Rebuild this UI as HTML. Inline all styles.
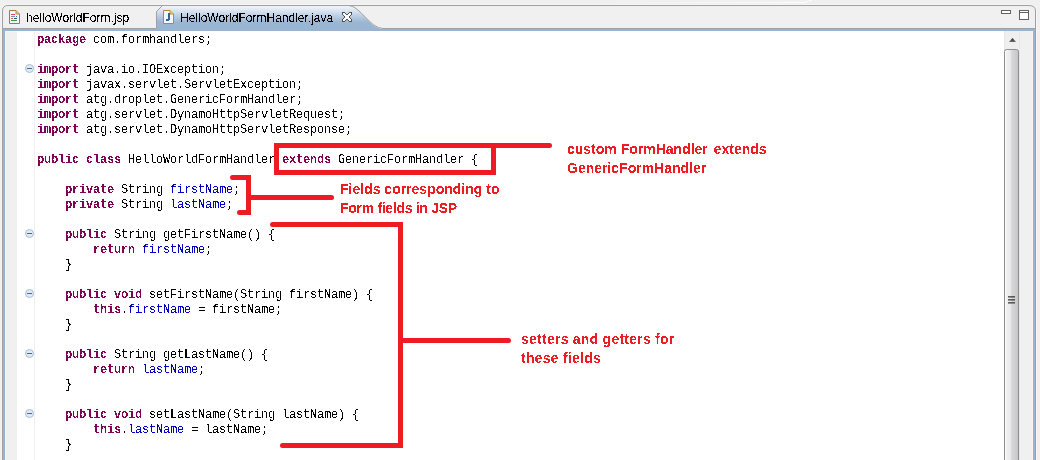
<!DOCTYPE html>
<html><head><meta charset="utf-8">
<style>
*{margin:0;padding:0;box-sizing:border-box}
html,body{width:1040px;height:460px;overflow:hidden;background:#f0f0f0;position:relative;font-family:"Liberation Sans",sans-serif}
svg{position:absolute;left:0;top:0}
#gut1{position:absolute;left:6px;top:32px;width:11px;height:440px;background:#f0f0f0}
#gutw{position:absolute;left:17px;top:31px;width:986px;height:440px;background:#fff}
#sep{position:absolute;left:34px;top:31px;width:1px;height:440px;background:#efefef}
#code{filter:url(#thr);position:absolute;left:37px;top:33px;font-family:"Liberation Mono",monospace;font-size:12px;letter-spacing:-0.2px;line-height:15px;color:#000;white-space:pre}
.k{color:#7f0055;font-weight:bold}
.f{color:#0000c0}
.fold{position:absolute;left:25px;width:9px;height:9px;border-radius:50%;background:#ddeaf7;border:1px solid #a9bed6}
.fold:after{content:"";position:absolute;left:1px;top:3px;width:5px;height:1px;background:#55657a}
.red{position:absolute;background:#ed1c24}
.note{filter:url(#thr);position:absolute;color:#ed1c24;font-weight:bold;font-size:14px;line-height:19px;white-space:pre}
.tab{filter:url(#thr);position:absolute;top:11px;font-size:12px;line-height:15px;color:#000;white-space:pre}
</style></head><body>
<svg width="0" height="0" style="position:absolute"><filter id="thr" x="0" y="0" width="100%" height="100%"><feComponentTransfer><feFuncA type="discrete" tableValues="0 1"/></feComponentTransfer></filter><filter id="thr2" x="0" y="0" width="100%" height="100%"><feComponentTransfer><feFuncA type="discrete" tableValues="0 0 0 0 0 0 0 1 1 1"/></feComponentTransfer></filter></svg>
<svg width="1040" height="460" viewBox="0 0 1040 460">
  <defs>
    <linearGradient id="atab" x1="0" y1="5" x2="0" y2="29" gradientUnits="userSpaceOnUse">
      <stop offset="0" stop-color="#f7f9fc"/>
      <stop offset="0.2" stop-color="#dfe8f2"/>
      <stop offset="0.5" stop-color="#b6cae0"/>
      <stop offset="0.72" stop-color="#9bb6d3"/>
      <stop offset="1" stop-color="#98b4d3"/>
    </linearGradient>
    <linearGradient id="thumb" x1="1004" y1="0" x2="1019" y2="0" gradientUnits="userSpaceOnUse">
      <stop offset="0" stop-color="#f6f6f6"/>
      <stop offset="0.45" stop-color="#e8e8e8"/>
      <stop offset="0.5" stop-color="#d9d9db"/>
      <stop offset="1" stop-color="#c3c3c6"/>
    </linearGradient>
    <linearGradient id="arrow" x1="0" y1="38" x2="0" y2="42" gradientUnits="userSpaceOnUse">
      <stop offset="0" stop-color="#202020"/>
      <stop offset="1" stop-color="#707070"/>
    </linearGradient>
  </defs>
  <!-- faint top toolbar edge -->
  <linearGradient id="wl" x1="600" y1="0" x2="800" y2="0" gradientUnits="userSpaceOnUse"><stop offset="0" stop-color="#f0f0f0"/><stop offset="1" stop-color="#fcfcfc"/></linearGradient>
  <path d="M600 2.5 H805 L806 1.5 H808 L809 0.5 H812" stroke="url(#wl)" fill="none"/>
  <!-- highlight around outer border -->
  <path d="M1.5 460 V11 Q1.5 4.5 8 4.5 H1029 Q1036.5 4.5 1036.5 11 V460" stroke="#f6f6f6" fill="none"/>
  <!-- active tab fill -->
  <path d="M157 29 V11 L162 6 H349 C360 6 370 29 383 29 Z" fill="url(#atab)"/>
  <!-- tab folder outline -->
  <path d="M2.5 460 V11 Q2.5 5.5 8 5.5 H1029 Q1035.5 5.5 1035.5 11 V460" stroke="#a0a0a0" fill="none"/>
  <!-- inactive tab right edge + active tab left corner -->
  <path d="M156.5 28.5 V11.5 L162.5 5.5" stroke="#a0a0a0" fill="none"/>
  <!-- active tab right curve -->
  <path d="M348.5 5.5 C360 5.5 370 28.5 383 28.5" stroke="#a0a0a0" fill="none"/>
  <!-- bottom line of tab row -->
  <path d="M2 28.5 H156.5 M383 28.5 H1035" stroke="#a0a0a0" fill="none"/>
  <!-- editor blue border -->
  <rect x="4" y="30" width="1030" height="440" stroke="#99b4d1" stroke-width="2" fill="#fff"/>
  <line x1="157" y1="29.5" x2="383" y2="29.5" stroke="#99b4d1"/>
  <!-- jsp icon -->
  <g>
    <path d="M9.5 10.5 H16 L19.5 14 V23.5 H9.5 Z" fill="#f2f6fc" stroke="#9c7b3c"/>
    <path d="M16 10.5 V14 H19.5" fill="#e2c27a" stroke="#b8924a"/>
    <rect x="11" y="14" width="4" height="1" fill="#e0454a"/>
    <rect x="11" y="16" width="4" height="1" fill="#7a93b8"/>
    <rect x="16" y="16" width="1" height="1" fill="#4a6a9c"/>
    <rect x="11" y="18" width="2" height="1" fill="#e84a50"/>
    <rect x="14" y="18" width="3" height="1" fill="#2a4a88"/>
    <rect x="11" y="20" width="6" height="1" fill="#3a9a3a"/>
  </g>
  <!-- java icon -->
  <g>
    <path d="M163.5 10.5 H170 L173.5 14 V23.5 H163.5 Z" fill="#f4f7fc" stroke="#b08a30"/>
    <path d="M170 10.5 V14 H173.5" fill="#e8c77a" stroke="#c09a48"/>
    <g shape-rendering="crispEdges" fill="#2d64a8"><rect x="168" y="13" width="2" height="7"/><rect x="166" y="19" width="3" height="2"/><rect x="169" y="20" width="0" height="0"/></g>
  </g>
  <!-- close X -->
  <g shape-rendering="crispEdges"><rect x="343" y="13" width="2" height="1" fill="#fff"/><rect x="349" y="13" width="2" height="1" fill="#fff"/><rect x="343" y="14" width="3" height="1" fill="#fff"/><rect x="348" y="14" width="3" height="1" fill="#fff"/><rect x="344" y="15" width="6" height="1" fill="#fff"/><rect x="345" y="16" width="4" height="1" fill="#fff"/><rect x="345" y="17" width="4" height="1" fill="#fff"/><rect x="344" y="18" width="6" height="1" fill="#fff"/><rect x="343" y="19" width="3" height="1" fill="#fff"/><rect x="348" y="19" width="3" height="1" fill="#fff"/><rect x="343" y="20" width="2" height="1" fill="#fff"/><rect x="349" y="20" width="2" height="1" fill="#fff"/><rect x="342" y="12" width="3" height="1" fill="#505050"/><rect x="349" y="12" width="3" height="1" fill="#505050"/><rect x="342" y="13" width="1" height="1" fill="#505050"/><rect x="345" y="13" width="1" height="1" fill="#505050"/><rect x="348" y="13" width="1" height="1" fill="#505050"/><rect x="351" y="13" width="1" height="1" fill="#505050"/><rect x="342" y="14" width="1" height="1" fill="#505050"/><rect x="346" y="14" width="2" height="1" fill="#505050"/><rect x="351" y="14" width="1" height="1" fill="#505050"/><rect x="343" y="15" width="1" height="1" fill="#505050"/><rect x="350" y="15" width="1" height="1" fill="#505050"/><rect x="344" y="16" width="1" height="1" fill="#505050"/><rect x="349" y="16" width="1" height="1" fill="#505050"/><rect x="344" y="17" width="1" height="1" fill="#505050"/><rect x="349" y="17" width="1" height="1" fill="#505050"/><rect x="343" y="18" width="1" height="1" fill="#505050"/><rect x="350" y="18" width="1" height="1" fill="#505050"/><rect x="342" y="19" width="1" height="1" fill="#505050"/><rect x="346" y="19" width="2" height="1" fill="#505050"/><rect x="351" y="19" width="1" height="1" fill="#505050"/><rect x="342" y="20" width="1" height="1" fill="#505050"/><rect x="345" y="20" width="1" height="1" fill="#505050"/><rect x="348" y="20" width="1" height="1" fill="#505050"/><rect x="351" y="20" width="1" height="1" fill="#505050"/><rect x="342" y="21" width="3" height="1" fill="#505050"/><rect x="349" y="21" width="3" height="1" fill="#505050"/></g>
  <!-- min / max -->
  <rect x="1001.5" y="10.5" width="9" height="3" fill="#fff" stroke="#606060"/>
  <rect x="1019.5" y="10.5" width="9" height="9" fill="#fff" stroke="#606060"/>
  <line x1="1020" y1="12.5" x2="1028" y2="12.5" stroke="#606060"/>
  <line x1="5.5" y1="31" x2="5.5" y2="460" stroke="#f6f5f3"/><line x1="5" y1="31.5" x2="17" y2="31.5" stroke="#f6f5f3"/><line x1="1032.5" y1="31" x2="1032.5" y2="460" stroke="#f6f5f3"/>
  <!-- overview ruler -->
  <rect x="1020" y="31" width="12" height="430" fill="#f0f0f0"/>
  <!-- scrollbar -->
  <rect x="1004" y="31" width="16" height="430" fill="#efefef"/>
  <line x1="1004.5" y1="31" x2="1004.5" y2="460" stroke="#e6e6e6"/>
  <line x1="1019.5" y1="31" x2="1019.5" y2="460" stroke="#e8e8e8"/>
  <path d="M1012.5 38 L1016 42 H1009 Z" fill="url(#arrow)"/>
  <rect x="1004.5" y="49.5" width="14" height="420" rx="2" fill="url(#thumb)" stroke="#8e8e8e"/>
  <line x1="1005.5" y1="51" x2="1005.5" y2="460" stroke="#fafafa"/>
  <g fill="#3a3a3a">
    <rect x="1008" y="296.2" width="7" height="1.3"/>
    <rect x="1008" y="299.2" width="7" height="1.3"/>
    <rect x="1008" y="302.2" width="7" height="1.3"/>
  </g>
</svg>
<div id="gut1"></div>
<div id="sep"></div>
<div class="tab" style="left:26px">helloWorldForm.jsp</div>
<div class="tab" style="left:180px">HelloWorldFormHandler.java</div>
<div id="code"><span class="k">package</span> com.formhandlers;

<span class="k">import</span> java.io.IOException;
<span class="k">import</span> javax.servlet.ServletException;
<span class="k">import</span> atg.droplet.GenericFormHandler;
<span class="k">import</span> atg.servlet.DynamoHttpServletRequest;
<span class="k">import</span> atg.servlet.DynamoHttpServletResponse;

<span class="k">public</span> <span class="k">class</span> HelloWorldFormHandler <span class="k">extends</span> GenericFormHandler {

    <span class="k">private</span> String <span class="f">firstName</span>;
    <span class="k">private</span> String <span class="f">lastName</span>;

    <span class="k">public</span> String getFirstName() {
        <span class="k">return</span> <span class="f">firstName</span>;
    }

    <span class="k">public</span> <span class="k">void</span> setFirstName(String firstName) {
        <span class="k">this</span>.<span class="f">firstName</span> = firstName;
    }

    <span class="k">public</span> String getLastName() {
        <span class="k">return</span> <span class="f">lastName</span>;
    }

    <span class="k">public</span> <span class="k">void</span> setLastName(String lastName) {
        <span class="k">this</span>.<span class="f">lastName</span> = lastName;
    }</div>
<div class="fold" style="top:64px"></div>
<div class="fold" style="top:229px"></div>
<div class="fold" style="top:289px"></div>
<div class="fold" style="top:349px"></div>
<div class="fold" style="top:409px"></div>

<!-- annotations -->
<div class="red" style="left:274px;top:143px;width:222px;height:5px"></div>
<div class="red" style="left:274px;top:170px;width:222px;height:5px"></div>
<div class="red" style="left:274px;top:143px;width:5px;height:32px"></div>
<div class="red" style="left:491px;top:143px;width:5px;height:32px"></div>
<div class="red" style="left:491px;top:143px;width:61px;height:5px;border-radius:0 3px 3px 0"></div>
<div class="note" style="left:567px;top:140px">custom FormHandler <span style="margin-left:2px">extends</span>
GenericFormHandler</div>

<div class="red" style="left:230px;top:175px;width:21px;height:5px;border-radius:3px 0 0 3px"></div>
<div class="red" style="left:246px;top:175px;width:5px;height:40px"></div>
<div class="red" style="left:237px;top:210px;width:14px;height:5px;border-radius:3px 0 0 3px"></div>
<div class="red" style="left:246px;top:195px;width:88px;height:5px;border-radius:0 3px 3px 0"></div>
<div class="note" style="left:340px;top:180px">Fields corresponding to
<span style="letter-spacing:-0.3px">Form fields in JSP</span></div>

<div class="red" style="left:270px;top:222px;width:133px;height:5px;border-radius:3px 0 0 3px"></div>
<div class="red" style="left:398px;top:222px;width:5px;height:226px"></div>
<div class="red" style="left:280px;top:443px;width:123px;height:5px;border-radius:3px 0 0 3px"></div>
<div class="red" style="left:398px;top:338px;width:113px;height:5px;border-radius:0 3px 3px 0"></div>
<div class="note" style="left:521px;top:330px;letter-spacing:0.25px">setters and getters for
these fields</div>
</body></html>
